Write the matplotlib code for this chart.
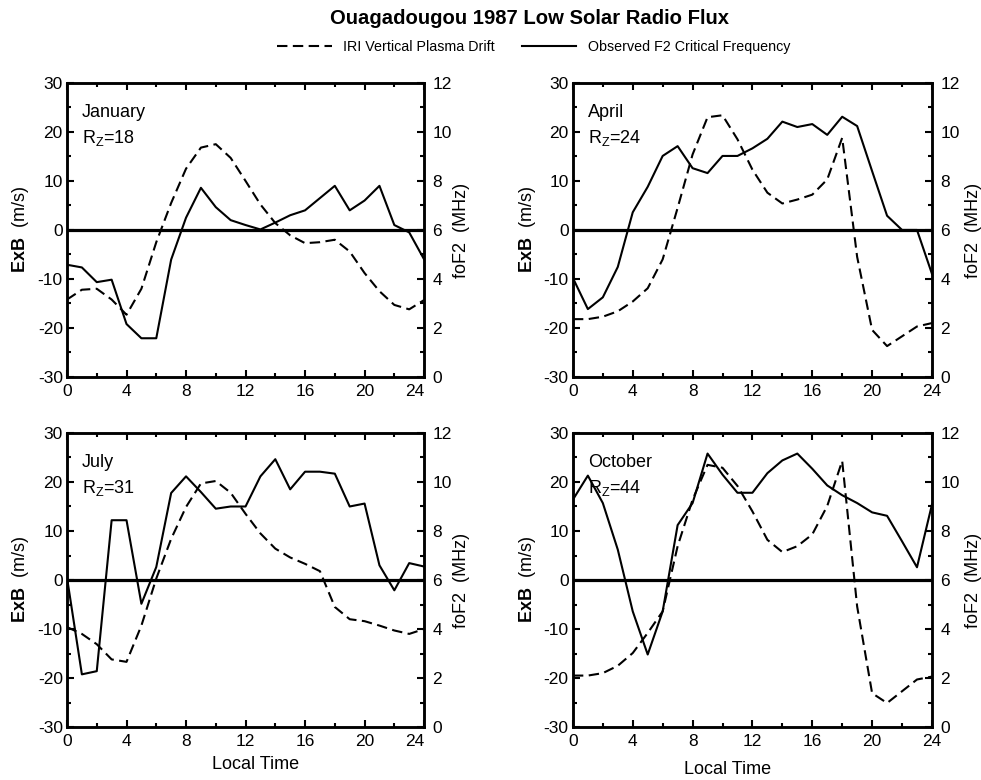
import numpy as np
import matplotlib
matplotlib.use("Agg")
import matplotlib.pyplot as plt
from matplotlib.lines import Line2D
from matplotlib.ticker import MultipleLocator

plt.rcParams['font.family'] = ['Liberation Sans', 'DejaVu Sans']
plt.rcParams['mathtext.fontset'] = 'custom'
plt.rcParams['mathtext.rm'] = 'Liberation Sans'
plt.rcParams['mathtext.bf'] = 'Liberation Sans:bold'
plt.rcParams['mathtext.it'] = 'Liberation Sans:italic'
plt.rcParams['axes.unicode_minus'] = False

# Local time (hours)
hours = np.arange(0, 25)

months = ["January", "April", "July", "October"]
sunspot = [18, 24, 31, 44]

# IRI vertical E x B drift (m/s)
jan_drift = [-14.2, -12.2, -12.0, -14.2, -17.3, -12.0, -2.5, 5.5, 12.5, 16.8, 17.5, 14.7,
             10.0, 5.2, 1.4, -1.1, -2.7, -2.5, -2.0, -4.4, -8.8, -12.5, -15.3, -16.2, -14.3]
apr_drift = [-18.2, -18.2, -17.7, -16.6, -14.6, -11.9, -6.0, 4.5, 15.4, 23.0, 23.4, 18.5,
             12.3, 7.6, 5.4, 6.2, 7.2, 10.3, 18.8, -5.5, -20.4, -23.7, -21.7, -19.7, -19.0]
jul_drift = [-9.6, -11.0, -13.1, -16.2, -16.7, -9.3, 0.3, 8.4, 14.9, 19.7, 20.2, 17.8,
             13.5, 9.5, 6.4, 4.6, 3.3, 1.8, -5.5, -8.0, -8.4, -9.3, -10.3, -11.0, -10.0]
oct_drift = [-19.5, -19.5, -19.0, -17.5, -14.9, -10.8, -6.4, 6.9, 16.4, 23.5, 22.9, 19.2,
             14.0, 8.2, 5.7, 6.9, 9.3, 15.1, 24.3, -5.4, -23.1, -25.1, -22.7, -20.3, -19.7]

# Observed F2 critical frequency (MHz)
jan_fof2 = [4.58, 4.47, 3.87, 3.97, 2.16, 1.58, 1.58, 4.79, 6.5, 7.72, 6.93, 6.4,
            6.2, 6.02, 6.3, 6.6, 6.8, 7.3, 7.8, 6.8, 7.2, 7.8, 6.2, 5.9, 4.8]
apr_fof2 = [4.04, 2.77, 3.25, 4.49, 6.72, 7.76, 9.02, 9.42, 8.52, 8.32, 9.02, 9.02,
            9.33, 9.72, 10.42, 10.2, 10.32, 9.88, 10.62, 10.24, 8.4, 6.58, 6.0, 6.0, 4.21]
jul_fof2 = [6.1, 2.15, 2.28, 8.44, 8.44, 5.03, 6.53, 9.55, 10.23, 9.59, 8.91, 9.0,
            9.0, 10.23, 10.93, 9.7, 10.42, 10.42, 10.34, 9.0, 9.12, 6.6, 5.58, 6.69, 6.55]
oct_fof2 = [9.28, 10.26, 9.14, 7.24, 4.72, 2.96, 4.72, 8.24, 9.14, 11.16, 10.3, 9.56,
            9.56, 10.36, 10.88, 11.16, 10.54, 9.86, 9.46, 9.14, 8.76, 8.62, 7.58, 6.52, 9.08]

drifts = [jan_drift, apr_drift, jul_drift, oct_drift]
fof2s = [jan_fof2, apr_fof2, jul_fof2, oct_fof2]

x_ticks = [0, 4, 8, 12, 16, 20, 24]
drift_ticks = [-30, -20, -10, 0, 10, 20, 30]
fof2_ticks = [0, 2, 4, 6, 8, 10, 12]

TICK_FS = 12.5
LABEL_FS = 13

fig = plt.figure(figsize=(9.81, 7.80), dpi=100)
positions = [
    [0.0683, 0.5167, 0.364, 0.377],
    [0.584, 0.5167, 0.366, 0.377],
    [0.0683, 0.0679, 0.364, 0.377],
    [0.584, 0.0679, 0.366, 0.377],
]
left_label_x = [-0.102, -0.097, -0.102, -0.097]
right_label_x = [1.081, 1.092, 1.081, 1.092]
xlabel_pos = {2: (0.527, -0.100), 3: (0.43, -0.114)}

dash_style = (0, (5, 2.6))

for i, pos in enumerate(positions):
    ax = fig.add_axes(pos)
    ax2 = ax.twinx()

    ax.axhline(0, color='black', lw=2.3, zorder=1)
    ax.plot(hours, drifts[i], color='black', lw=1.5, linestyle=dash_style)
    ax2.plot(hours, fof2s[i], color='black', lw=1.5)

    ax.set_xlim(0, 24)
    ax.set_ylim(-30, 30)
    ax2.set_ylim(0, 12)

    ax.set_xticks(x_ticks)
    ax.set_xticklabels([str(t) for t in x_ticks])
    ax.xaxis.set_minor_locator(MultipleLocator(2))
    ax.set_yticks(drift_ticks)
    ax.yaxis.set_minor_locator(MultipleLocator(5))
    ax2.set_yticks(fof2_ticks)
    ax2.yaxis.set_minor_locator(MultipleLocator(1))

    ax.tick_params(axis='both', which='both', direction='in', width=1.5,
                   labelsize=TICK_FS, top=True, bottom=True)
    ax.tick_params(axis='both', which='major', length=5)
    ax.tick_params(axis='both', which='minor', length=3)
    ax.tick_params(axis='x', which='major', pad=5)
    ax.tick_params(axis='y', which='major', pad=3)
    ax2.tick_params(axis='y', which='both', direction='in', width=1.5,
                    labelsize=TICK_FS, pad=6)
    ax2.tick_params(axis='y', which='major', length=5)
    ax2.tick_params(axis='y', which='minor', length=3)

    for a in (ax, ax2):
        for sp in a.spines.values():
            sp.set_linewidth(1.8)

    if i % 2 == 0:
        ax.get_xticklabels()[-1].set_horizontalalignment('right')

    ax.set_ylabel(r"$\mathbf{ExB}$  (m/s)", fontsize=LABEL_FS)
    ax.yaxis.set_label_coords(left_label_x[i], 0.5)
    ax2.set_ylabel("foF2  (MHz)", fontsize=LABEL_FS)
    ax2.yaxis.set_label_coords(right_label_x[i], 0.5)

    ax.text(0.042, 0.9, months[i], transform=ax.transAxes, fontsize=LABEL_FS,
            va='center', ha='left')
    ax.text(0.042, 0.812, "R$_\\mathrm{Z}$=%d" % sunspot[i], transform=ax.transAxes,
            fontsize=LABEL_FS, va='center', ha='left')

    if i in xlabel_pos:
        ax.set_xlabel("Local Time", fontsize=LABEL_FS)
        ax.xaxis.set_label_coords(*xlabel_pos[i])

fig.text(0.54, 1 - 19 / 780, "Ouagadougou 1987 Low Solar Radio Flux",
         ha='center', va='center', fontsize=14.6, fontweight='bold')

handles = [
    Line2D([], [], color='black', lw=1.5, linestyle=dash_style),
    Line2D([], [], color='black', lw=1.5),
]
fig.legend(handles, ["IRI Vertical Plasma Drift", "Observed F2 Critical Frequency"],
           loc='center', bbox_to_anchor=(0.544, 1 - 47 / 780), ncol=2, frameon=False,
           fontsize=10.3, handlelength=3.8, handletextpad=0.8, columnspacing=1.9)

fig.savefig("out.png", dpi=100)
